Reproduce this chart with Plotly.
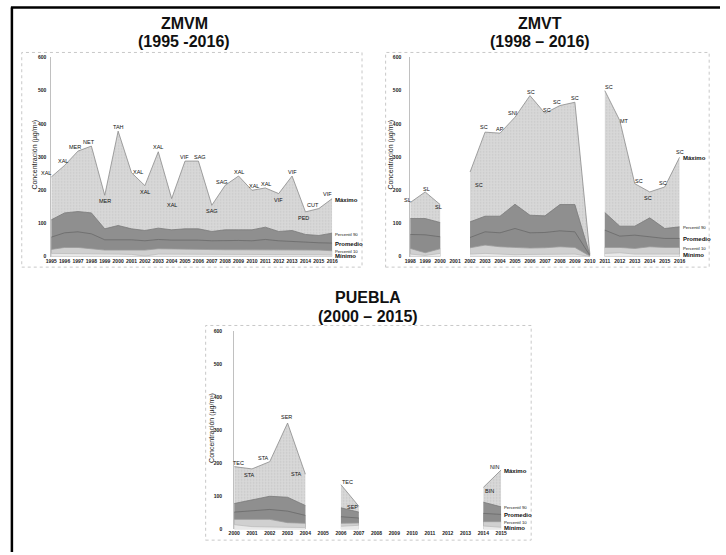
import plotly.graph_objects as go

W, H = 726, 555

# ---------------- DATA ----------------
ZMVM_YEARS = list(range(1995, 2017))
ZMVM_MAX = [240, 275, 318, 333, 185, 378, 253, 214, 316, 175, 288, 288, 155, 215, 243, 200, 207, 190, 243, 135, 145, 175]
ZMVM_P90 = [111, 132, 136, 132, 84, 94, 84, 79, 86, 81, 84, 84, 76, 81, 81, 81, 89, 76, 79, 67, 64, 71]
ZMVM_MEAN = [59, 72, 75, 69, 51, 52, 51, 48, 52, 50, 51, 50, 48, 49, 49, 48, 52, 48, 47, 44, 42, 41]
ZMVM_P10 = [22, 28, 28, 23, 20, 20, 21, 20, 24, 23, 22, 21, 22, 21, 21, 21, 22, 22, 20, 20, 20, 18]
ZMVM_MIN = [10, 10, 10, 9, 8, 8, 7, 2, 8, 8, 7, 6, 7, 7, 7, 6, 8, 6, 7, 7, 6, 5]
ZMVM_STATIONS = ["XAL", "XAL", "MER", "NET", "MER", "TAH", "XAL", "XAL", "XAL", "XAL", "VIF",
                 "SAG", "SAG", "SAG", "XAL", "XAL", "XAL", "VIF", "VIF", "PED", "CUT", "VIF"]

ZMVT_YEARS = list(range(1998, 2017))
ZMVT_MAX = [163, 195, 157, None, 255, 375, 372, 420, 485, 432, 455, 465, 8, 500, 410, 220, 195, 210, 300]
ZMVT_P90 = [115, 115, 103, None, 105, 122, 122, 158, 125, 123, 157, 157, 6, 133, 92, 92, 117, 85, 90]
ZMVT_MEAN = [67, 66, 60, None, 58, 75, 72, 85, 72, 73, 78, 75, 4, 80, 62, 65, 60, 55, 55]
ZMVT_P10 = [25, 12, 24, None, 27, 35, 30, 28, 26, 27, 30, 28, 2, 28, 28, 25, 30, 28, 28]
ZMVT_MIN = [8, 4, 10, None, 8, 10, 8, 6, 7, 8, 8, 8, 1, 10, 12, 8, 8, 8, 8]
ZMVT_STATIONS = ["SL", "SL", "SL", "", "SC", "SC", "AP", "SNI", "SC", "SC", "SC", "SC", "",
                 "SC", "MT", "SC", "SC", "SC", "SC"]
ZMVT_SEGMENT_STARTS = [2011]

PUE_YEARS = list(range(2000, 2016))
PUE_MAX = [190, 183, 205, 322, 167, None, 135, 70, None, None, None, None, None, None, 127, 180]
PUE_P90 = [78, 88, 100, 97, 72, None, 65, 52, None, None, None, None, None, None, 82, 68]
PUE_MEAN = [52, 55, 60, 55, 42, None, 38, 34, None, None, None, None, None, None, 48, 45]
PUE_P10 = [30, 30, 30, 20, 18, None, 18, 19, None, None, None, None, None, None, 23, 23]
PUE_MIN = [14, 8, 7, 6, 5, None, 9, 12, None, None, None, None, None, None, 10, 6]
PUE_STATIONS = ["TEC", "STA", "STA", "SER", "STA", "", "TEC", "SEP", "", "", "", "", "", "", "BIN", "NIN"]

SERIES_NAMES = ["Máximo", "Percentil 90", "Promedio", "Percentil 10", "Mínimo"]
Y_TICKS = [0, 100, 200, 300, 400, 500, 600]
Y_TITLE = "Concentración (µg/m³)"

# ---------------- STYLE ----------------
FONT = "Liberation Sans, Arial, sans-serif"
FILLS = ["#d6d6d6", "#8f8f8f", "#8c8c8c", "#d0d0d0", "#e9e9e9"]
LINES = ["#8a8a8a", "#7a7a7a", "#6a6a6a", "#9a9a9a", "#bdbdbd"]
LABEL_SIZES = [6, 4.3, 6, 4.3, 6]
LABEL_WEIGHTS = ["bold", "normal", "bold", "normal", "bold"]

ZMVM_OFF = [(-5, 4), (-2, 4), (-3, 4), (-2, 4), (0, -6), (0, 4), (6, 1), (0, -6), (0, 5), (0, -6),
            (-1, 4), (2, 4), (0, -6), (-3, 3), (0, 4), (2, 4), (1, 4), (0, -6), (0, 4), (-2, -6), (-6, 4), (-5, 5)]
ZMVT_OFF = [(-3, 3), (1, 3), (-2, -2), (0, 0), (9, -13), (-1, 5), (0, 4), (-2, 4), (1, 4), (2, 3),
            (-3, 4), (0, 4), (0, 0), (4, 4), (5, 0), (4, 3), (-2, -6), (-2, 4), (0, 5)]
PUE_OFF = [(4, 4), (-2, -6), (-6, 4), (-1, 6), (-9, 0), (0, 0), (7, 3), (-6, -1), (0, 0), (0, 0),
           (0, 0), (0, 0), (0, 0), (0, 0), (6, -4), (-6, 3)]


def px(x):
    return x / W


def py(y):
    return 1 - y / H


PANELS = [
    dict(years=ZMVM_YEARS, series=[ZMVM_MAX, ZMVM_P90, ZMVM_MEAN, ZMVM_P10, ZMVM_MIN],
         stations=ZMVM_STATIONS, off=ZMVM_OFF, starts=[],
         xdom=(46, 331.7), ydom=(256.5, 55), standoff=3,
         title1="ZMVM", title2="(1995 -2016)", tx=181, ty=(21, 39), ytx=30,
         frame=(16, 50, 362, 267)),
    dict(years=ZMVT_YEARS, series=[ZMVT_MAX, ZMVT_P90, ZMVT_MEAN, ZMVT_P10, ZMVT_MIN],
         stations=ZMVT_STATIONS, off=ZMVT_OFF, starts=ZMVT_SEGMENT_STARTS,
         xdom=(411, 685), ydom=(256.5, 55), standoff=7,
         title1="ZMVT", title2="(1998 – 2016)", tx=543, ty=(21, 39), ytx=392,
         frame=(386, 50, 715, 267)),
    dict(years=PUE_YEARS, series=[PUE_MAX, PUE_P90, PUE_MEAN, PUE_P10, PUE_MIN],
         stations=PUE_STATIONS, off=PUE_OFF, starts=[],
         xdom=(232, 503.5), ydom=(532, 332), standoff=10,
         title1="PUEBLA", title2="(2000 – 2015)", tx=368, ty=(298, 317), ytx=210,
         frame=(203, 326, 534, 543)),
]


def segments(years, vals, starts):
    segs, cur = [], []
    for i, yr in enumerate(years):
        if vals[i] is None:
            if cur:
                segs.append(cur)
            cur = []
            continue
        if yr in starts and cur:
            segs.append(cur)
            cur = []
        cur.append(i)
    if cur:
        segs.append(cur)
    return segs


fig = go.Figure()
annotations = []
shapes = []
layout_axes = {}

for k, p in enumerate(PANELS):
    n = "" if k == 0 else str(k + 1)
    xa, ya = "x" + n, "y" + n
    years = p["years"]
    segs = segments(years, p["series"][0], p["starts"])
    for si, vals in enumerate(p["series"]):
        for seg in segs:
            tr = dict(
                x=[years[i] for i in seg], y=[vals[i] for i in seg],
                mode="lines", fill="tozeroy", fillcolor=FILLS[si],
                line=dict(color=LINES[si], width=0.8),
                xaxis=xa, yaxis=ya, showlegend=False, hoverinfo="skip",
            )
            if si == 0:
                tr["fillpattern"] = dict(shape=".", bgcolor="#d8d8d8", fgcolor="#b0b0b0",
                                         size=3, solidity=0.2)
            fig.add_trace(go.Scatter(**tr))
    # station labels
    for i, st in enumerate(p["stations"]):
        if st and p["series"][0][i] is not None:
            dx, dy = p["off"][i]
            annotations.append(dict(
                x=years[i], y=p["series"][0][i], xref=xa, yref=ya, text=st,
                showarrow=False, xshift=dx, yshift=dy, xanchor="center", yanchor="middle",
                font=dict(family=FONT, size=5.5, color="#111"),
            ))
    # series labels at last value
    for si, vals in enumerate(p["series"]):
        annotations.append(dict(
            x=years[-1], y=vals[-1], xref=xa, yref=ya, text=SERIES_NAMES[si],
            showarrow=False, xanchor="left", yanchor="middle", xshift=1, yshift=-1,
            font=dict(family=FONT, size=LABEL_SIZES[si], color="#111", weight=LABEL_WEIGHTS[si]),
        ))
    # titles
    for t, ty in ((p["title1"], p["ty"][0]), (p["title2"], p["ty"][1])):
        annotations.append(dict(x=px(p["tx"]), y=py(ty), xref="paper", yref="paper",
                                text=t, showarrow=False, xanchor="center", yanchor="middle",
                                font=dict(family=FONT, size=16, color="#111", weight="bold")))
    # y-axis title
    ymid = (p["ydom"][0] + p["ydom"][1]) / 2 - 2
    annotations.append(dict(x=px(p["ytx"]), y=py(ymid), xref="paper", yref="paper",
                            text=Y_TITLE, textangle=-90, showarrow=False,
                            xanchor="center", yanchor="middle",
                            font=dict(family=FONT, size=7, color="#222")))
    # frame
    fx0, fy0, fx1, fy1 = p["frame"]
    shapes.append(dict(type="rect", xref="paper", yref="paper",
                       x0=px(fx0), x1=px(fx1), y0=py(fy1), y1=py(fy0),
                       line=dict(color="#c8c8c8", width=1, dash="dot")))

    xkey = "xaxis" + n
    ykey = "yaxis" + n
    layout_axes[xkey] = dict(
        domain=[px(p["xdom"][0]), px(p["xdom"][1])], range=[years[0], years[-1]],
        anchor=ya, tickmode="array", tickvals=years, ticktext=[str(y) for y in years],
        tickfont=dict(family=FONT, size=5, color="#222", weight="bold"), showgrid=False,
        zeroline=False, showline=False, ticks="", tickangle=0, fixedrange=True,
    )
    layout_axes[ykey] = dict(
        domain=[py(p["ydom"][0]), py(p["ydom"][1])], range=[0, 600],
        anchor=xa, tickmode="array", tickvals=Y_TICKS,
        tickfont=dict(family=FONT, size=5, color="#222", weight="bold"), showgrid=False,
        zeroline=False, showline=True, linecolor="#c0c0c0", linewidth=1, ticks="",
        ticklabelstandoff=p["standoff"], fixedrange=True,
    )

# outer black border lines (top and left)
shapes.append(dict(type="line", xref="paper", yref="paper", x0=px(5), x1=1, y0=py(4.5), y1=py(4.5),
                   line=dict(color="#000", width=2.5)))
shapes.append(dict(type="line", xref="paper", yref="paper", x0=px(6), x1=px(6), y0=py(4.5), y1=0,
                   line=dict(color="#000", width=2.5)))

fig.update_layout(
    width=W, height=H, margin=dict(l=0, r=0, t=0, b=0),
    paper_bgcolor="white", plot_bgcolor="white",
    annotations=annotations, shapes=shapes, showlegend=False,
    **layout_axes,
)

fig.write_html("out.html", config={"displayModeBar": False},
               post_script="document.body.style.margin='0px';")
